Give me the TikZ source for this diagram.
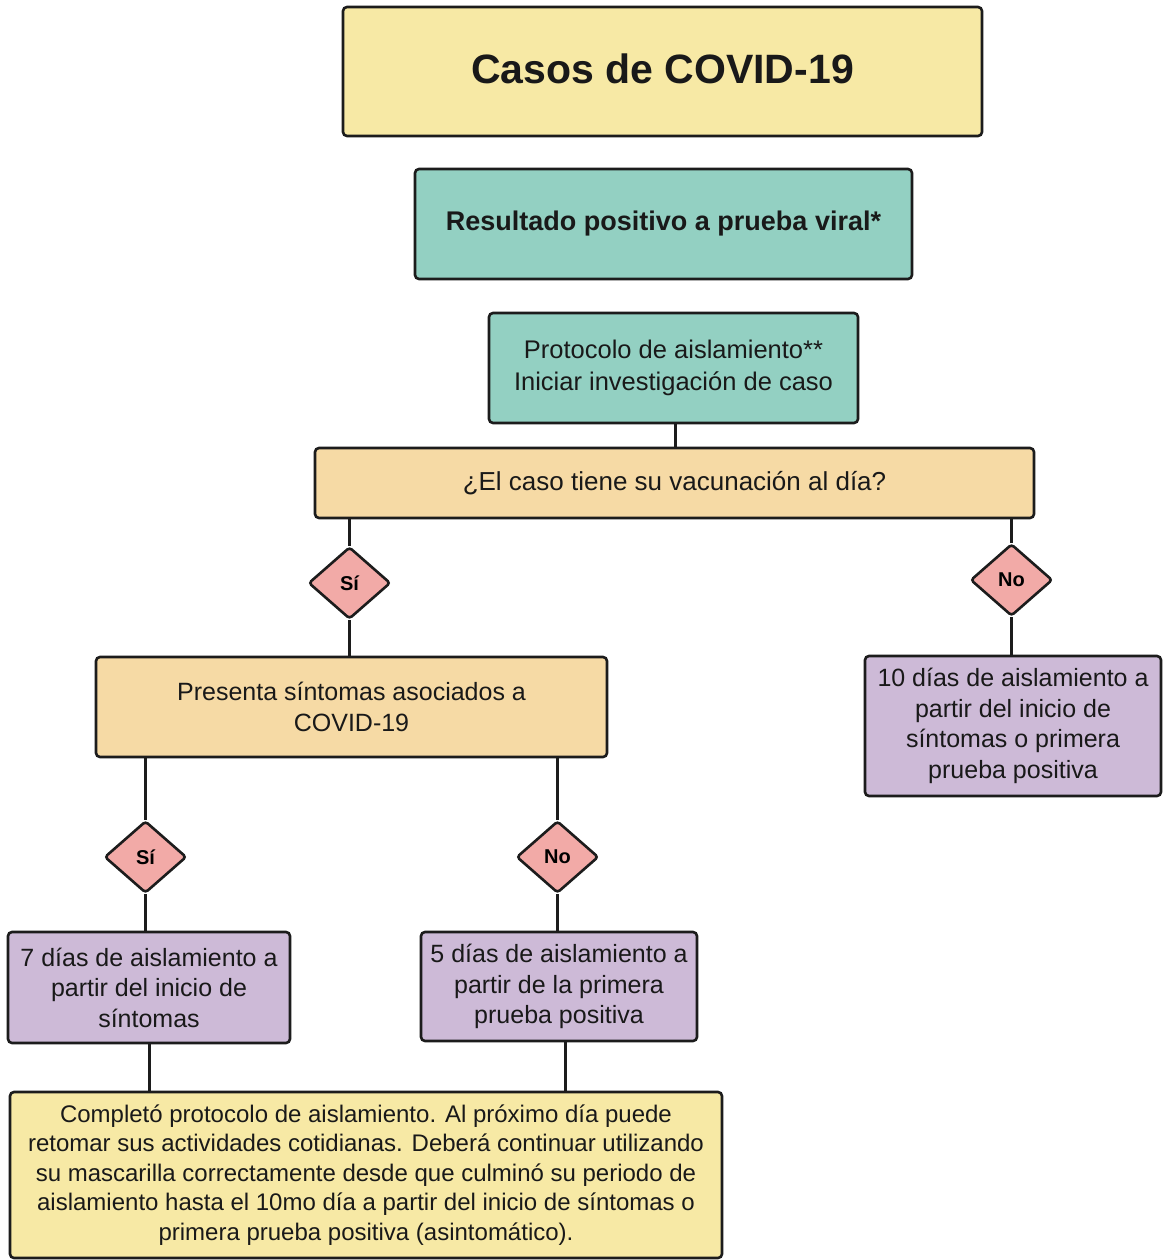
\documentclass[tikz,border=0pt]{standalone}
\usepackage{fontspec}
\setmainfont{Liberation Sans}
\usetikzlibrary{shapes.geometric}
\definecolor{cyel}{HTML}{F7E9A5}
\definecolor{cteal}{HTML}{93D0C2}
\definecolor{corg}{HTML}{F6DAA5}
\definecolor{cpur}{HTML}{CDBAD7}
\definecolor{cpink}{HTML}{F2AAA7}
\definecolor{cline}{HTML}{1C1C1C}
\tikzset{
  box/.style={draw=cline, line width=2.6pt, rounded corners=4pt, align=center, inner sep=0pt, text=black!90},
  dia/.style={diamond, draw=cline, line width=2.6pt, fill=cpink, rounded corners=3pt, aspect=1.14, inner sep=0pt, minimum width=82pt, minimum height=72pt, font=\bfseries\fontsize{20}{24}\selectfont},
  conn/.style={draw=cline, line width=3pt},
  reg/.style={font=\fontsize{25}{30.5}\selectfont},
}
\begin{document}
\begin{tikzpicture}[x=1pt,y=-1pt]
\useasboundingbox[fill=white] (0,0) rectangle (1163,1260);
\node[box, fill=cyel, minimum width=639pt, minimum height=129pt, font=\bfseries\fontsize{41}{48}\selectfont] (title) at (662.5,71.5) {\raisebox{6pt}{Casos de COVID-19}};
\node[box, fill=cteal, minimum width=497pt, minimum height=110pt, font=\bfseries\fontsize{27}{32}\selectfont] (res) at (663.5,224) {Resultado positivo a prueba viral*};
\node[box, fill=cteal, minimum width=369pt, minimum height=110pt, font=\fontsize{25.5}{31.5}\selectfont] (prot) at (673.5,368) {Protocolo de aislamiento**\\Iniciar investigación de caso};
\node[box, fill=corg, minimum width=719pt, minimum height=70pt, font=\fontsize{26}{31}\selectfont] (q) at (674.5,483) {¿El caso tiene su vacunación al día?};
\node[dia] (si1) at (349.5,583) {Sí};
\node[dia] (no1) at (1011.5,580) {No};
\node[box, fill=corg, minimum width=511pt, minimum height=100pt, reg] (pres) at (351.5,707) {Presenta síntomas asociados a\\COVID-19};
\node[box, fill=cpur, minimum width=296pt, minimum height=140pt, reg] (d10) at (1013,726) {10 días de aislamiento a\\partir del inicio de\\síntomas o primera\\prueba positiva};
\node[dia] (si2) at (145.5,857) {Sí};
\node[dia] (no2) at (557.5,857) {No};
\node[box, fill=cpur, minimum width=282pt, minimum height=111pt, reg] (d7) at (149,987.5) {7 días de aislamiento a\\partir del inicio de\\síntomas};
\node[box, fill=cpur, minimum width=276pt, minimum height=109pt, reg] (d5) at (559,986.5) {5 días de aislamiento a\\partir de la primera\\prueba positiva};
\node[box, fill=cyel, minimum width=712pt, minimum height=166pt, font=\fontsize{24}{29.5}\selectfont] (fin) at (366,1175) {Completó protocolo de aislamiento. Al próximo día puede\\retomar sus actividades cotidianas. Deberá continuar utilizando\\su mascarilla correctamente desde que culminó su periodo de\\aislamiento hasta el 10mo día a partir del inicio de síntomas o\\primera prueba positiva (asintomático).};
\draw[conn] ([xshift=1.5pt]prot.south) -- ([xshift=1.5pt]prot.south |- q.north);
\draw[conn] (si1.north) -- (si1.north |- q.south);
\draw[conn] (si1.south) -- (si1.south |- pres.north);
\draw[conn] (no1.north) -- (no1.north |- q.south);
\draw[conn] (no1.south) -- (no1.south |- d10.north);
\draw[conn] (si2.north) -- (si2.north |- pres.south);
\draw[conn] (si2.south) -- (si2.south |- d7.north);
\draw[conn] (no2.north) -- (no2.north |- pres.south);
\draw[conn] (no2.south) -- (no2.south |- d5.north);
\draw[conn] (d7.south) -- (d7.south |- fin.north);
\draw[conn] ([xshift=6pt]d5.south) -- ([xshift=6pt]d5.south |- fin.north);
\end{tikzpicture}
\end{document}
